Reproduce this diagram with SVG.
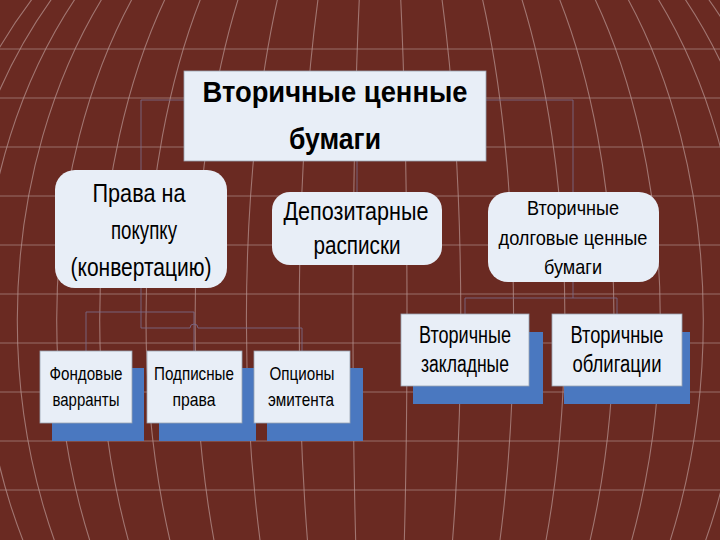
<svg xmlns="http://www.w3.org/2000/svg" width="720" height="540" viewBox="0 0 720 540">
<style>
.bg{fill:#6A2A22}
.hl{stroke:#A88580;stroke-width:1;opacity:0.75}
.mer{fill:none;stroke:#B99693;stroke-width:1.1;opacity:0.7}
.con{fill:none;stroke:#7A6A8A;stroke-width:1;opacity:0.85}
.box{fill:#E8EEF7;stroke:#9AA3B2;stroke-width:0.8}
.rbox{fill:#E8EEF7}
.sh{fill:#4A78C0}
text{font-family:"Liberation Sans",Arial,sans-serif;fill:#000;text-anchor:middle}
.t1{font-size:30px;font-weight:bold}
.t2{font-size:26.5px}
.t3{font-size:21px}
.t4{font-size:23px}
.t5{font-size:18.5px}
</style>
<rect class="bg" x="0" y="0" width="720" height="540"/>
<g id="grid">
<path class="hl" d="M0 49H720M0 98H720M0 147H720M0 196H720M0 245H720M0 294H720M0 343H720M0 392H720M0 441H720M0 490H720"/>
<g class="mer">
<path d="M380 -180A27 500 0 0 1 380 820M380 -180A27 500 0 0 0 380 820"/>
<path d="M380 -180A80.8 500 0 0 1 380 820M380 -180A80.8 500 0 0 0 380 820"/>
<path d="M380 -180A133.6 500 0 0 1 380 820M380 -180A133.6 500 0 0 0 380 820"/>
<path d="M380 -180A184.9 500 0 0 1 380 820M380 -180A184.9 500 0 0 0 380 820"/>
<path d="M380 -180A234 500 0 0 1 380 820M380 -180A234 500 0 0 0 380 820"/>
<path d="M380 -180A280.3 500 0 0 1 380 820M380 -180A280.3 500 0 0 0 380 820"/>
<path d="M380 -180A323.3 500 0 0 1 380 820M380 -180A323.3 500 0 0 0 380 820"/>
<path d="M380 -180A362.7 500 0 0 1 380 820M380 -180A362.7 500 0 0 0 380 820"/>
<path d="M380 -180A397.7 500 0 0 1 380 820M380 -180A397.7 500 0 0 0 380 820"/>
<path d="M380 -180A428.2 500 0 0 1 380 820M380 -180A428.2 500 0 0 0 380 820"/>
<path d="M380 -180A453.6 500 0 0 1 380 820M380 -180A453.6 500 0 0 0 380 820"/>
</g>
</g>
<g id="connectors">
<path class="con" d="M141 170V100H573V192"/>
<path class="con" d="M357 161V192"/>
<path class="con" d="M86 351V312H194V351"/>
<path class="con" d="M141 288V328H190a4 4 0 0 1 8 0H302V351"/>
<path class="con" d="M573 282V298H465V314M573 298H617V314"/>
</g>
<g id="root">
<rect class="box" x="184" y="71" width="302" height="90"/>
<text class="t1" x="335" y="102" textLength="265" lengthAdjust="spacingAndGlyphs">Вторичные ценные</text>
<text class="t1" x="335" y="149" textLength="92" lengthAdjust="spacingAndGlyphs">бумаги</text>
</g>
<g id="rights">
<rect class="rbox" x="55" y="170" width="172" height="118" rx="20"/>
<text class="t2" x="139" y="202" textLength="93" lengthAdjust="spacingAndGlyphs">Права на</text>
<text class="t2" x="144" y="239" textLength="66" lengthAdjust="spacingAndGlyphs">покупку</text>
<text class="t2" x="141" y="276" textLength="141" lengthAdjust="spacingAndGlyphs">(конвертацию)</text>
</g>
<g id="depository">
<rect class="rbox" x="272" y="192" width="170" height="73" rx="18"/>
<text class="t2" x="356" y="220" textLength="145" lengthAdjust="spacingAndGlyphs">Депозитарные</text>
<text class="t2" x="357" y="254" textLength="87" lengthAdjust="spacingAndGlyphs">расписки</text>
</g>
<g id="debt">
<rect class="rbox" x="488" y="192" width="171" height="90" rx="20"/>
<text class="t3" x="573" y="215" textLength="92" lengthAdjust="spacingAndGlyphs">Вторичные</text>
<text class="t3" x="573" y="245" textLength="149" lengthAdjust="spacingAndGlyphs">долговые ценные</text>
<text class="t3" x="573" y="274" textLength="58" lengthAdjust="spacingAndGlyphs">бумаги</text>
</g>
<g id="warrants">
<rect class="sh" x="52" y="368" width="92" height="73"/>
<rect class="box" x="40" y="351" width="92" height="72"/>
<text class="t5" x="86" y="380" textLength="73" lengthAdjust="spacingAndGlyphs">Фондовые</text>
<text class="t5" x="86" y="406" textLength="67" lengthAdjust="spacingAndGlyphs">варранты</text>
</g>
<g id="subscription">
<rect class="sh" x="159" y="368" width="97" height="73"/>
<rect class="box" x="147" y="351" width="95" height="72"/>
<text class="t5" x="194" y="380" textLength="80" lengthAdjust="spacingAndGlyphs">Подписные</text>
<text class="t5" x="194" y="406" textLength="43" lengthAdjust="spacingAndGlyphs">права</text>
</g>
<g id="options">
<rect class="sh" x="267" y="368" width="96" height="73"/>
<rect class="box" x="254" y="351" width="96" height="72"/>
<text class="t5" x="302" y="380" textLength="65" lengthAdjust="spacingAndGlyphs">Опционы</text>
<text class="t5" x="301" y="406" textLength="66" lengthAdjust="spacingAndGlyphs">эмитента</text>
</g>
<g id="mortgages">
<rect class="sh" x="413" y="332" width="130" height="72"/>
<rect class="box" x="401" y="314" width="128" height="72"/>
<text class="t4" x="465" y="343" textLength="92" lengthAdjust="spacingAndGlyphs">Вторичные</text>
<text class="t4" x="465" y="372" textLength="88" lengthAdjust="spacingAndGlyphs">закладные</text>
</g>
<g id="bonds">
<rect class="sh" x="564" y="332" width="126" height="72"/>
<rect class="box" x="552" y="314" width="130" height="72"/>
<text class="t4" x="617" y="343" textLength="93" lengthAdjust="spacingAndGlyphs">Вторичные</text>
<text class="t4" x="617" y="372" textLength="89" lengthAdjust="spacingAndGlyphs">облигации</text>
</g>
</svg>
